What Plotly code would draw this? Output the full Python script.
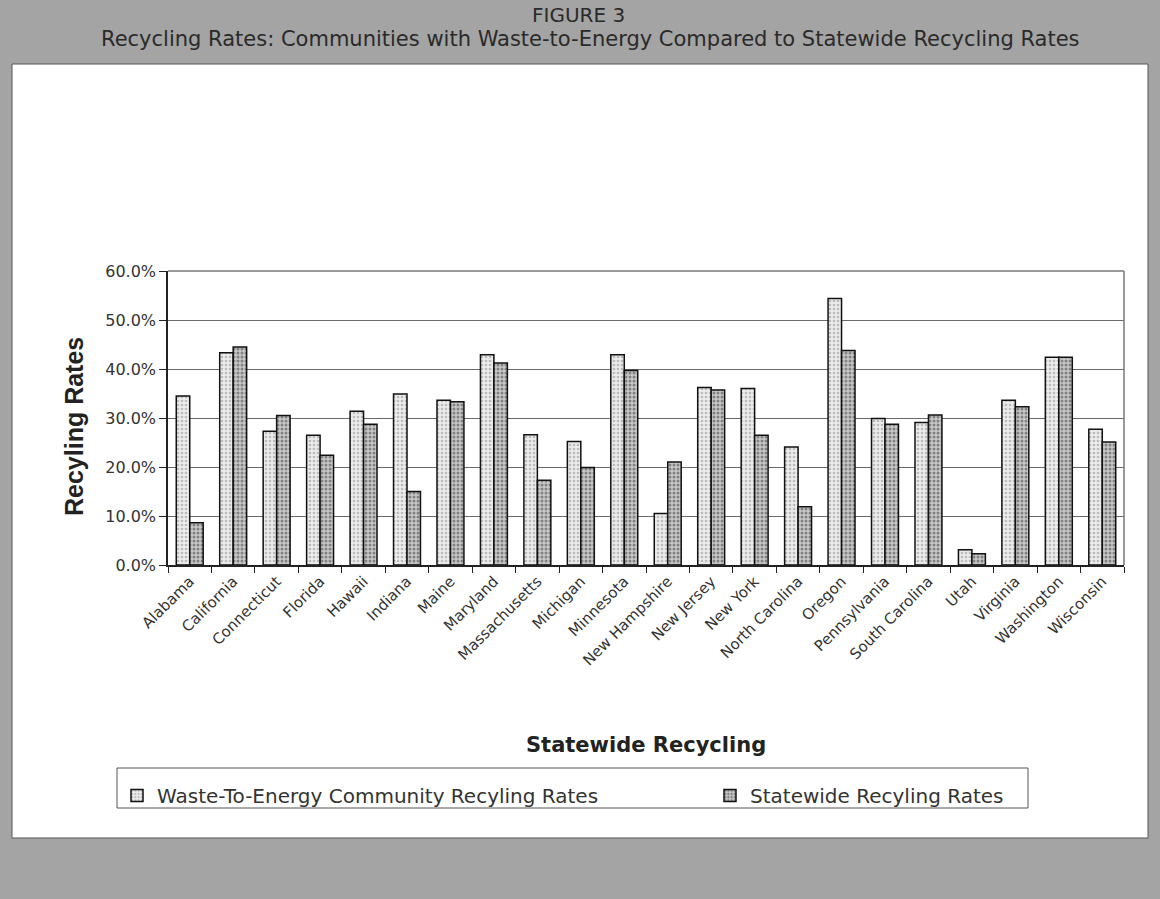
import plotly.graph_objects as go

# State-level recycling rates (percent)
states = ["Alabama", "California", "Connecticut", "Florida", "Hawaii", "Indiana",
          "Maine", "Maryland", "Massachusetts", "Michigan", "Minnesota",
          "New Hampshire", "New Jersey", "New York", "North Carolina", "Oregon",
          "Pennsylvania", "South Carolina", "Utah", "Virginia", "Washington",
          "Wisconsin"]
wte_rates = [34.5, 43.3, 27.3, 26.5, 31.4, 34.9, 33.6, 42.9, 26.6, 25.2, 42.9,
             10.5, 36.2, 36.0, 24.1, 54.4, 29.9, 29.1, 3.1, 33.6, 42.4, 27.7]
statewide_rates = [8.6, 44.5, 30.5, 22.4, 28.7, 15.0, 33.3, 41.2, 17.3, 19.9, 39.7,
                   21.0, 35.7, 26.5, 11.9, 43.8, 28.7, 30.6, 2.3, 32.3, 42.4, 25.1]
series_names = ["Waste-To-Energy Community Recyling Rates", "Statewide Recyling Rates"]
y_ticks = [0, 10, 20, 30, 40, 50, 60]
y_tick_labels = [f"{v:.1f}%" for v in y_ticks]

# plot-area geometry in pixels, used to place page decorations
L, R, T, B = 168, 1124, 271, 565
W, H = R - L, B - T


def px(x):
    return (x - L) / W


def py(y):
    return (B - y) / H


fig = go.Figure()
fig.add_trace(go.Bar(
    x=states, y=wte_rates, name=series_names[0], legend="legend",
    marker=dict(color="#ececec", line=dict(color="#111111", width=1.5),
                pattern=dict(shape=".", fgcolor="#8a8a8a", bgcolor="#ececec",
                             size=4, solidity=0.35)),
))
fig.add_trace(go.Bar(
    x=states, y=statewide_rates, name=series_names[1], legend="legend2",
    marker=dict(color="#bdbdbd", line=dict(color="#111111", width=1.5),
                pattern=dict(shape=".", fgcolor="#3a3a3a", bgcolor="#c8c8c8",
                             size=4, solidity=0.45)),
))

font_main = "DejaVu Sans"
legend_common = dict(
    orientation="h", xref="container", yref="container",
    y=1 - 776 / 899, xanchor="left", yanchor="top",
    bgcolor="rgba(0,0,0,0)", borderwidth=0, itemwidth=30,
    font=dict(family=font_main, size=20, color="#333333"),
)

fig.update_layout(
    width=1160, height=899,
    margin=dict(l=L, r=1160 - R, t=T, b=899 - B, pad=0),
    paper_bgcolor="#a4a4a4",
    plot_bgcolor="rgba(0,0,0,0)",
    barmode="group", bargap=0.38, bargroupgap=0.0,
    font=dict(family=font_main, color="#333333"),
    showlegend=True,
    legend=dict(x=117 / 1160, **legend_common),
    legend2=dict(x=710 / 1160, **legend_common),
    xaxis=dict(
        type="category", tickangle=-45,
        tickfont=dict(family=font_main, size=15, color="#333333"),
        showline=True, linecolor="#222222", linewidth=1.5,
        ticks="outside", tickson="boundaries", ticklen=6, tickcolor="#222222",
        showgrid=False, mirror=False, fixedrange=True,
    ),
    yaxis=dict(
        range=[0, 60], tickvals=y_ticks, ticktext=y_tick_labels,
        tickfont=dict(family=font_main, size=16, color="#333333"),
        showline=True, linecolor="#222222", linewidth=1.5,
        ticks="outside", ticklen=7, tickcolor="#222222",
        showgrid=True, gridcolor="#6a6a6a", gridwidth=1,
        zeroline=False, fixedrange=True,
    ),
    shapes=[
        # white chart panel
        dict(type="rect", xref="paper", yref="paper", layer="below",
             x0=px(12), x1=px(1148), y0=py(838), y1=py(64),
             fillcolor="white", line=dict(color="#555555", width=1)),
        # top and right border of the plot area
        dict(type="line", xref="paper", yref="paper", x0=1, x1=1, y0=0, y1=1,
             line=dict(color="#777777", width=1.5)),
        dict(type="line", xref="paper", yref="paper", x0=0, x1=1, y0=1, y1=1,
             line=dict(color="#777777", width=1.5)),
        # legend frame
        dict(type="rect", xref="paper", yref="paper", layer="below",
             x0=px(117), x1=px(1028), y0=py(808), y1=py(768),
             fillcolor="white", line=dict(color="#555555", width=1)),
    ],
    annotations=[
        dict(text="FIGURE 3", xref="paper", yref="paper", x=px(578), y=py(15),
             showarrow=False, font=dict(family=font_main, size=20, color="#2a2a2a"),
             xanchor="center", yanchor="middle"),
        dict(text="Recycling Rates: Communities with Waste-to-Energy Compared to Statewide Recycling Rates",
             xref="paper", yref="paper", x=px(590), y=py(39), showarrow=False,
             font=dict(family=font_main, size=21, color="#2a2a2a"),
             xanchor="center", yanchor="middle"),
        dict(text="<b>Recyling Rates</b>", xref="paper", yref="paper",
             x=px(74), y=py(427), textangle=-90, showarrow=False,
             font=dict(family="Liberation Sans", size=25, color="#222222"),
             xanchor="center", yanchor="middle"),
        dict(text="<b>Statewide Recycling</b>", xref="paper", yref="paper",
             x=0.5, y=py(745), showarrow=False,
             font=dict(family=font_main, size=21, color="#222222"),
             xanchor="center", yanchor="middle"),
    ],
)

fig.write_html("out.html")
